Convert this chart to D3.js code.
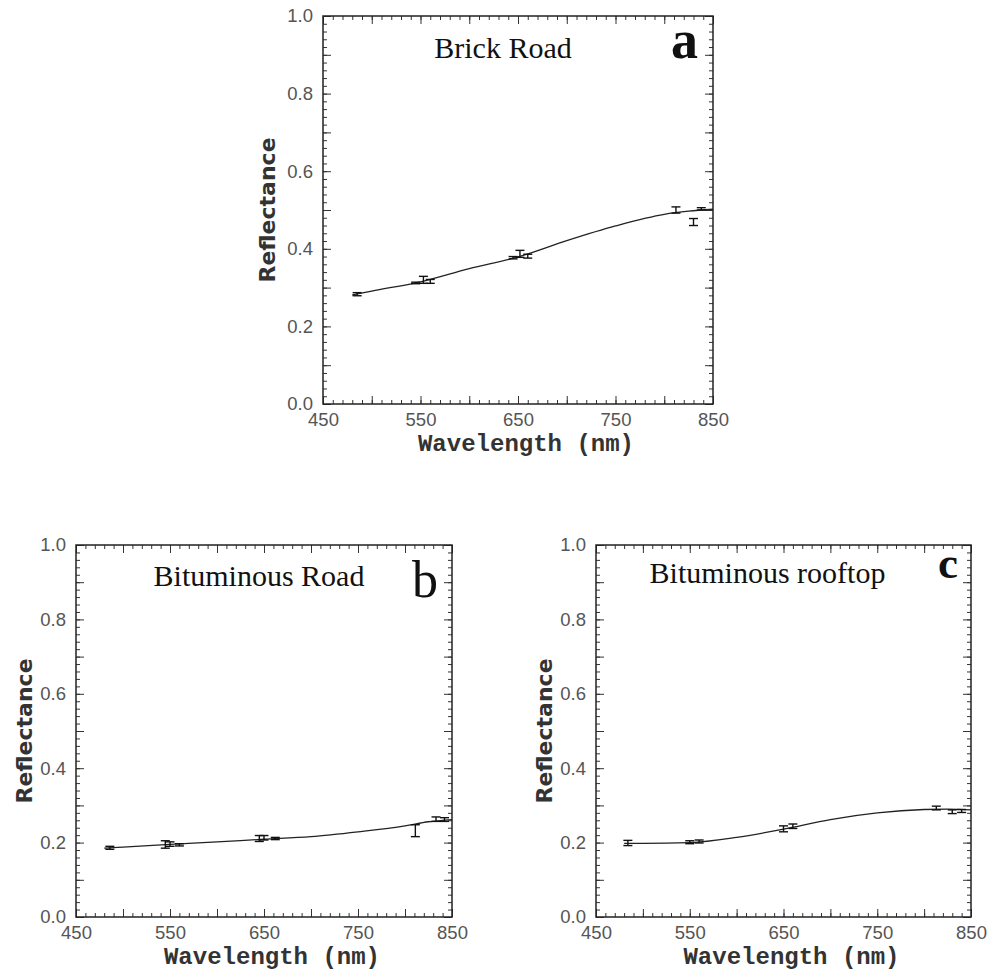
<!DOCTYPE html>
<html>
<head>
    <meta charset="utf-8">
    <script type="text/javascript" src="https://cdn.jsdelivr.net/npm/d3@7"></script>
    <style>
        body { margin: 0; background: #fff; }
        svg { display: block; }
    </style>
</head>

<body>
    <div id="viz"></div>
    <script type="text/javascript">

    // tick labels
    var wavelengthTicks = [450, 550, 650, 750, 850],
        reflTicks = [0.0, 0.2, 0.4, 0.6, 0.8, 1.0];

    // smooth spectra, sampled along the wavelength axis
    var curveWl = [480, 500, 550, 600, 650, 700, 750, 800, 825, 850];
    var brickCurve   = [0.281, 0.291, 0.315, 0.349, 0.379, 0.421, 0.459, 0.489, 0.497, 0.502];
    var bitRoadCurve = [0.185, 0.188, 0.195, 0.202, 0.209, 0.216, 0.229, 0.245, 0.256, 0.262];
    var rooftopCurve = [0.198, 0.198, 0.200, 0.214, 0.236, 0.262, 0.280, 0.289, 0.290, 0.288];

    // measured points with error bars
    var brickPtWl  = [485, 545, 553, 560, 645, 652, 660, 812, 830, 838];
    var brickPtVal = [0.283, 0.312, 0.320, 0.316, 0.377, 0.387, 0.381, 0.500, 0.469, 0.503];
    var brickPtErr = [0.004, 0.002, 0.009, 0.005, 0.003, 0.009, 0.005, 0.008, 0.009, 0.003];

    var bitRoadPtWl  = [486, 545, 550, 560, 645, 650, 662, 811, 833, 842];
    var bitRoadPtVal = [0.186, 0.195, 0.196, 0.194, 0.211, 0.213, 0.211, 0.232, 0.263, 0.262];
    var bitRoadPtErr = [0.004, 0.010, 0.006, 0.003, 0.008, 0.006, 0.003, 0.016, 0.006, 0.005];

    var rooftopPtWl  = [484, 550, 560, 650, 660, 813, 830, 840];
    var rooftopPtVal = [0.199, 0.201, 0.203, 0.237, 0.244, 0.293, 0.283, 0.285];
    var rooftopPtErr = [0.007, 0.004, 0.004, 0.008, 0.006, 0.005, 0.005, 0.004];

    // layout of the three panels (pixels)
    var panels = [
        {left: 323, top: 16, w: 390, h: 388, title: "Brick Road", titleDx: -15, titleDy: 42,
         letter: "a", letterBold: true, letterSize: 54, letterDx: -15, letterDy: 42, ylabDx: -48,
         curve: brickCurve, ptWl: brickPtWl, ptVal: brickPtVal, ptErr: brickPtErr},
        {left: 76, top: 545, w: 376, h: 372, title: "Bituminous Road", titleDx: -5, titleDy: 41,
         letter: "b", letterBold: false, letterSize: 52, letterDx: -14, letterDy: 52, ylabDx: -44,
         curve: bitRoadCurve, ptWl: bitRoadPtWl, ptVal: bitRoadPtVal, ptErr: bitRoadPtErr},
        {left: 596, top: 545, w: 375, h: 372, title: "Bituminous rooftop", titleDx: -16, titleDy: 38,
         letter: "c", letterBold: true, letterSize: 45, letterDx: -13, letterDy: 33, ylabDx: -44,
         curve: rooftopCurve, ptWl: rooftopPtWl, ptVal: rooftopPtVal, ptErr: rooftopPtErr}
    ];

    var svg = d3.select("#viz")
        .append("svg")
        .attr("width", 989)
        .attr("height", 970);

    panels.forEach(function(p) {
        var g = svg.append("g").attr("transform", "translate(" + p.left + "," + p.top + ")");

        var x = d3.scaleLinear().domain([450, 850]).range([0, p.w]);
        var y = d3.scaleLinear().domain([0, 1]).range([p.h, 0]);

        var minorX = d3.range(450, 851, 10),
            majorX = d3.range(450, 851, 50),
            minorY = d3.range(0, 1.001, 0.02),
            majorY = d3.range(0, 1.001, 0.1);

        // inward ticks on all four sides
        function tickAxis(axisFn, scale, vals, size, tr) {
            var a = g.append("g")
                .attr("transform", tr)
                .call(axisFn(scale).tickValues(vals).tickSize(-size).tickFormat(""));
            a.select(".domain").remove();
            a.selectAll("line").attr("stroke", "#333").attr("stroke-width", 1);
        }
        tickAxis(d3.axisBottom, x, minorX, 4, "translate(0," + p.h + ")");
        tickAxis(d3.axisBottom, x, majorX, 8, "translate(0," + p.h + ")");
        tickAxis(d3.axisTop, x, minorX, 4, "translate(0,0)");
        tickAxis(d3.axisTop, x, majorX, 8, "translate(0,0)");
        tickAxis(d3.axisLeft, y, minorY, 4, "translate(0,0)");
        tickAxis(d3.axisLeft, y, majorY, 8, "translate(0,0)");
        tickAxis(d3.axisRight, y, minorY, 4, "translate(" + p.w + ",0)");
        tickAxis(d3.axisRight, y, majorY, 8, "translate(" + p.w + ",0)");

        // labelled axes
        var xAxis = g.append("g")
            .attr("transform", "translate(0," + p.h + ")")
            .call(d3.axisBottom(x).tickValues(wavelengthTicks).tickSize(0).tickPadding(9));
        var yAxis = g.append("g")
            .call(d3.axisLeft(y).tickValues(reflTicks).tickSize(0).tickPadding(10).tickFormat(d3.format(".1f")));
        [xAxis, yAxis].forEach(function(a) {
            a.select(".domain").remove();
            a.selectAll("text")
                .attr("font-family", "Liberation Sans, Arial, sans-serif")
                .attr("font-size", 18.5)
                .attr("fill", "#555");
        });

        // frame
        g.append("rect")
            .attr("width", p.w)
            .attr("height", p.h)
            .attr("fill", "none")
            .attr("stroke", "#222")
            .attr("stroke-width", 1.5);

        // spectrum
        var line = d3.line()
            .x(function(d, i) { return x(curveWl[i]); })
            .y(function(d) { return y(d); })
            .curve(d3.curveMonotoneX);
        g.append("path")
            .datum(p.curve)
            .attr("d", line)
            .attr("fill", "none")
            .attr("stroke", "#222")
            .attr("stroke-width", 1.3);

        // error bars
        var eb = g.selectAll(".eb")
            .data(p.ptVal)
            .enter().append("g")
            .attr("class", "eb")
            .attr("stroke", "#111")
            .attr("stroke-width", 1.4);
        eb.append("line")
            .attr("x1", function(d, i) { return x(p.ptWl[i]); })
            .attr("x2", function(d, i) { return x(p.ptWl[i]); })
            .attr("y1", function(d, i) { return y(d - p.ptErr[i]); })
            .attr("y2", function(d, i) { return y(d + p.ptErr[i]); });
        [-1, 1].forEach(function(s) {
            eb.append("line")
                .attr("x1", function(d, i) { return x(p.ptWl[i]) - 4.5; })
                .attr("x2", function(d, i) { return x(p.ptWl[i]) + 4.5; })
                .attr("y1", function(d, i) { return y(d + s * p.ptErr[i]); })
                .attr("y2", function(d, i) { return y(d + s * p.ptErr[i]); });
        });

        // titles and labels
        g.append("text")
            .attr("x", p.w / 2 + p.titleDx)
            .attr("y", p.titleDy)
            .attr("text-anchor", "middle")
            .attr("font-family", "Liberation Serif, Times New Roman, serif")
            .attr("font-size", 30)
            .attr("fill", "#111")
            .text(p.title);

        g.append("text")
            .attr("x", p.w + p.letterDx)
            .attr("y", p.letterDy)
            .attr("text-anchor", "end")
            .attr("font-family", "Liberation Serif, Times New Roman, serif")
            .attr("font-weight", p.letterBold ? "bold" : "normal")
            .attr("font-size", p.letterSize)
            .attr("fill", "#111")
            .text(p.letter);

        g.append("text")
            .attr("x", p.w / 2 + 8)
            .attr("y", p.h + 47)
            .attr("text-anchor", "middle")
            .attr("font-family", "Liberation Mono, Courier New, monospace")
            .attr("font-weight", "bold")
            .attr("font-size", 24)
            .attr("fill", "#333")
            .text("Wavelength (nm)");

        g.append("text")
            .attr("transform", "translate(" + p.ylabDx + "," + (p.h / 2) + ") rotate(-90)")
            .attr("text-anchor", "middle")
            .attr("font-family", "DejaVu Sans, sans-serif")
            .attr("font-weight", "bold")
            .attr("font-size", 22)
            .attr("fill", "#333")
            .text("Reflectance");
    });

    </script>
</body>
</html>
